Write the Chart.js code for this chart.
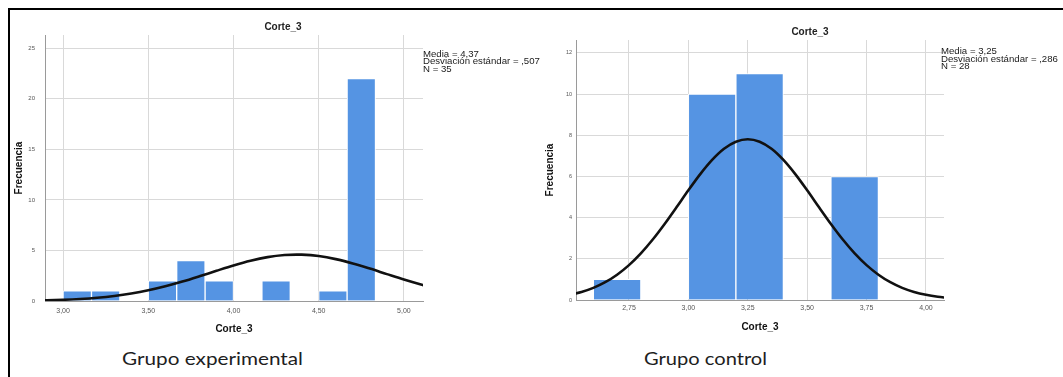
<!DOCTYPE html>
<html>
<head>
<meta charset="utf-8">
<script src="https://cdn.jsdelivr.net/npm/chart.js@4.4.0/dist/chart.umd.min.js"></script>
<style>
html,body{margin:0;padding:0;background:#fff;}
body{width:1063px;height:377px;position:relative;overflow:hidden;font-family:'Liberation Sans',Arial,sans-serif;}
canvas{position:absolute;top:0;}
#c1{left:0;}
#c2{left:530px;}
.frameTop{position:absolute;left:8px;top:8px;width:1055px;height:2px;background:#000;}
.frameLeft{position:absolute;left:8px;top:8px;width:2px;height:369px;background:#000;}
.stats{position:absolute;font-size:8.6px;line-height:7.4px;color:#1a1a1a;white-space:nowrap;transform:scaleX(1.12);transform-origin:0 0;}
.grp{position:absolute;font-family:Lato,'Open Sans',sans-serif;font-size:17.5px;line-height:17px;color:#1e1e1e;white-space:nowrap;transform-origin:0 0;}
</style>
</head>
<body>
<div class="frameTop"></div>
<div class="frameLeft"></div>
<canvas id="c1" width="566" height="345"></canvas>
<canvas id="c2" width="560" height="345"></canvas>
<div class="stats" id="s1" style="left:422.5px;top:51px;"></div>
<div class="stats" id="s2" style="left:941px;top:48.3px;"></div>
<div class="grp" id="g1" style="top:350px;"></div>
<div class="grp" id="g2" style="top:350px;"></div>
<script>
// ---- Data ----
const chartTitle = 'Corte_3';
const xAxisTitle = 'Corte_3';
const yAxisTitle = 'Frecuencia';

// Grupo experimental
const leftBinCenters = [3.0833, 3.25, 3.4167, 3.5833, 3.75, 3.9167, 4.0833, 4.25, 4.4167, 4.5833, 4.75];
const leftCounts     = [1, 1, 0, 2, 4, 2, 0, 2, 0, 1, 22];
const leftCurveX = [2.85, 2.9, 3.0, 3.1, 3.2, 3.3, 3.4, 3.5, 3.6, 3.7, 3.8, 3.9, 4.0, 4.1, 4.2, 4.3, 4.37, 4.4, 4.5, 4.6, 4.7, 4.8, 4.9, 5.0, 5.1, 5.15];
const leftCurveY = [0.051, 0.069, 0.119, 0.199, 0.320, 0.495, 0.736, 1.053, 1.449, 1.917, 2.440, 2.987, 3.517, 3.983, 4.339, 4.546, 4.590, 4.582, 4.442, 4.141, 3.714, 3.203, 2.658, 2.121, 1.628, 1.405];
const leftStats = ['Media = 4,37', 'Desviación estándar = ,507', 'N = 35'];
const leftGroupLabel = 'Grupo experimental';

// Grupo control
const rightBinCenters = [2.7, 2.9, 3.1, 3.3, 3.5, 3.7];
const rightCounts     = [1, 0, 10, 11, 0, 6];
const rightCurveX = [2.50, 2.55, 2.60, 2.65, 2.70, 2.75, 2.80, 2.85, 2.90, 2.95, 3.00, 3.05, 3.10, 3.15, 3.20, 3.25, 3.30, 3.35, 3.40, 3.45, 3.50, 3.55, 3.60, 3.65, 3.70, 3.75, 3.80, 3.85, 3.90, 3.95, 4.00, 4.05, 4.10];
const rightCurveY = [0.251, 0.391, 0.590, 0.865, 1.229, 1.694, 2.265, 2.937, 3.693, 4.505, 5.330, 6.116, 6.806, 7.347, 7.691, 7.81, 7.691, 7.347, 6.806, 6.116, 5.330, 4.505, 3.693, 2.937, 2.265, 1.694, 1.229, 0.865, 0.590, 0.391, 0.251, 0.156, 0.094];
const rightStats = ['Media = 3,25', 'Desviación estándar = ,286', 'N = 28'];
const rightGroupLabel = 'Grupo control';

// ---- Rendering ----
Chart.defaults.font.family = "'Liberation Sans', Arial, Helvetica, sans-serif";
Chart.defaults.color = '#444';
const BAR_COLOR = '#5594e3';
const GRID = '#d9d9d9';
const AXIS = '#9a9a9a';

function histChart(id, o) {
  return new Chart(document.getElementById(id), {
    type: 'bar',
    data: {
      datasets: [
        {
          type: 'line',
          data: o.curveX.map((x, i) => ({x: x, y: o.curveY[i]})),
          borderColor: '#111', borderWidth: 2.6, pointRadius: 0,
          cubicInterpolationMode: 'monotone', fill: false, clip: 0, order: 0
        },
        {
          type: 'bar',
          data: o.centers.map((x, i) => ({x: x, y: o.counts[i]})),
          backgroundColor: BAR_COLOR, borderColor: '#ffffff', borderWidth: 1,
          barPercentage: 1, categoryPercentage: 1, order: 1
        }
      ]
    },
    options: {
      responsive: false, animation: false, devicePixelRatio: 1,
      layout: {padding: 0},
      plugins: {
        legend: {display: false}, tooltip: {enabled: false},
        title: {display: true, text: chartTitle, color: '#222',
          font: {size: 10, weight: 'bold'}, padding: {top: o.titleTop, bottom: o.titleBottom}}
      },
      scales: {
        x: {
          type: 'linear', min: o.xMin, max: o.xMax, offset: false, position: 'bottom',
          grid: {offset: false, color: GRID, lineWidth: 1, drawTicks: false},
          border: {display: true, color: AXIS, width: 1},
          ticks: {stepSize: o.xStep, includeBounds: false, padding: o.xTickPad, maxRotation: 0, autoSkip: false,
            font: {size: 7}, color: '#555', callback: v => Number(v).toFixed(2).replace('.', ',')},
          title: {display: true, text: xAxisTitle, color: '#111', font: {size: 10, weight: 'bold'},
            padding: {top: 0, bottom: o.xTitleBottom}},
          afterFit: s => { s.height = o.xAxisH; }
        },
        y: {
          type: 'linear', min: 0, max: o.yMax, position: 'left',
          grid: {color: GRID, lineWidth: 1, drawTicks: false},
          border: {display: true, color: AXIS, width: 1},
          ticks: {stepSize: o.yStep, includeBounds: false, padding: o.yTickPad, font: {size: o.yTickSize}, color: '#555'},
          title: {display: true, text: yAxisTitle, color: '#111', font: {size: 10, weight: 'bold'},
            padding: {top: o.yTitleTop, bottom: 0}},
          afterFit: s => { s.width = o.yAxisW; }
        },
        yR: {
          type: 'linear', position: 'right', display: true,
          grid: {display: false}, border: {display: false}, ticks: {display: false},
          afterFit: s => { s.width = o.rightW; }
        }
      }
    }
  });
}

histChart('c1', {
  centers: leftBinCenters, counts: leftCounts, curveX: leftCurveX, curveY: leftCurveY,
  titleTop: 21, titleBottom: 2,
  xMin: 2.894, xMax: 5.112, xStep: 0.5, xTickPad: 6, xTitleBottom: 10, xAxisH: 44,
  yMax: 26.3, yStep: 5, yTickPad: 10, yTickSize: 6, yTitleTop: 13, yAxisW: 45, rightW: 143
});
histChart('c2', {
  centers: rightBinCenters, counts: rightCounts, curveX: rightCurveX, curveY: rightCurveY,
  titleTop: 26, titleBottom: 2,
  xMin: 2.527, xMax: 4.076, xStep: 0.25, xTickPad: 4, xTitleBottom: 12, xAxisH: 45,
  yMax: 12.63, yStep: 2, yTickPad: 4, yTickSize: 5.5, yTitleTop: 14, yAxisW: 46, rightW: 146
});

document.getElementById('s1').innerHTML = leftStats.join('<br>');
document.getElementById('s2').innerHTML = rightStats.join('<br>');

function fitText(id, text, left, width) {
  const el = document.getElementById(id);
  el.textContent = text;
  const w = el.getBoundingClientRect().width;
  el.style.left = left + 'px';
  el.style.transform = 'scaleX(' + (width / w) + ')';
}
fitText('g1', leftGroupLabel, 122, 181);
fitText('g2', rightGroupLabel, 644, 123);
</script>
</body>
</html>
